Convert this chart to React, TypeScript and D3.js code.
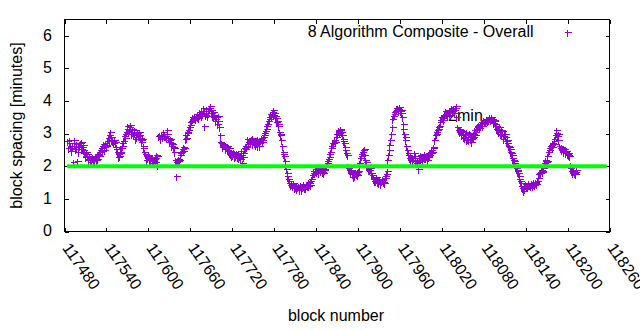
import React from "react";
import * as d3 from "d3";

// ---- data ----
const seriesTitle = "8 Algorithm Composite - Overall";
const xLabel = "block number";
const yLabel = "block spacing [minutes]";
// even-numbered blocks starting at 117484, step 2
const firstEvenBlock = 117484;
const spacingEven: number[] = [
  2.78, 2.72, 2.62, 2.55, 2.12, 2.82, 2.60, 2.16, 2.58, 2.70,
  2.74, 2.66, 2.40, 2.32, 2.38, 2.22, 2.25, 2.18, 2.24, 2.20,
  2.28, 2.22, 2.38, 2.44, 2.55, 2.62, 2.58, 2.70, 2.66, 2.88,
  2.96, 2.90, 2.78, 2.70, 2.74, 2.52, 2.38, 2.32, 2.45, 2.62,
  2.78, 2.86, 3.05, 3.22, 3.12, 3.28, 3.05, 2.95, 3.10, 2.90,
  3.02, 2.95, 2.88, 2.80, 2.62, 2.45, 2.32, 2.25, 2.30, 2.20,
  2.28, 2.15, 2.22, 2.12, 2.30, 2.92, 2.88, 2.96, 2.90, 3.00,
  2.94, 3.12, 2.86, 2.80, 2.72, 2.68, 2.55, 2.20, 1.70, 2.15,
  2.18, 2.40, 2.52, 2.48, 2.95, 2.88, 3.02, 3.20, 3.35, 3.45,
  3.48, 3.50, 3.55, 3.52, 3.58, 3.60, 3.70, 3.80, 3.25, 3.62,
  3.55, 3.68, 3.85, 3.72, 3.50, 3.58, 3.40, 3.30, 3.55, 2.95,
  2.70, 2.58, 2.65, 2.55, 2.62, 2.48, 2.40, 2.45, 2.35, 2.42,
  2.30, 2.38, 2.25, 2.32, 2.48, 2.10, 2.40, 2.52, 2.60, 2.75,
  2.82, 2.70, 2.88, 2.78, 2.65, 2.72, 2.85, 2.62, 2.80, 2.75,
  2.90, 3.02, 3.15, 3.30, 3.45, 3.60, 3.55, 3.72, 3.62, 3.48,
  3.40, 3.22, 2.95, 2.80, 2.45, 2.30, 2.05, 1.80, 1.62, 1.50,
  1.45, 1.38, 1.42, 1.35, 1.30, 1.38, 1.32, 1.28, 1.35, 1.40,
  1.33, 1.45, 1.38, 1.50, 1.55, 1.72, 1.85, 1.92, 1.82, 1.88,
  1.95, 1.85, 1.90, 1.78, 1.92, 2.05, 2.15, 2.28, 2.45, 2.62,
  2.72, 2.80, 2.90, 3.00, 3.10, 3.15, 3.05, 2.85, 2.70, 2.50,
  2.35, 1.95, 1.85, 1.90, 1.75, 1.70, 1.80, 1.72, 1.85, 2.10,
  2.30, 2.45, 2.52, 2.20, 2.05, 1.95, 1.90, 2.00, 1.72, 1.62,
  1.55, 1.68, 1.50, 1.60, 1.45, 1.58, 1.52, 1.65, 1.75, 2.20,
  2.50, 2.80, 3.20, 3.55, 3.65, 3.72, 3.80, 3.75, 3.68, 3.62,
  3.30, 3.00, 2.80, 2.50, 2.35, 2.20, 2.28, 2.15, 2.40, 2.18,
  2.12, 1.93, 2.25, 2.30, 2.20, 2.38, 2.25, 2.32, 2.28, 2.40,
  2.50, 2.45, 2.55, 2.95, 3.05, 3.15, 3.25, 3.42, 3.48, 3.52,
  3.60, 3.65, 3.55, 3.72, 3.68, 3.75, 3.80, 3.62, 3.85, 3.20,
  3.05, 3.12, 2.95, 3.00, 2.88, 3.05, 2.85, 2.80, 2.92, 2.75,
  2.90, 3.10, 2.95, 3.20, 3.28, 3.22, 3.35, 3.30, 3.40, 3.38,
  3.45, 3.42, 3.48, 3.50, 3.45, 3.38, 3.30, 3.15, 3.05, 3.20,
  2.95, 3.08, 2.85, 3.00, 2.78, 2.70, 2.60, 2.45, 2.35, 2.20,
  2.10, 1.95, 1.85, 1.70, 1.55, 1.40, 1.25, 1.35, 1.42, 1.38,
  1.48, 1.40, 1.45, 1.52, 1.42, 1.50, 1.55, 1.75, 1.82, 1.88,
  1.85, 2.10, 2.18, 2.15, 2.45, 2.55, 2.65, 2.72, 2.78, 2.95,
  3.10, 2.98, 2.62, 2.50, 2.55, 2.45, 2.40, 2.48, 2.35, 2.30,
  1.95, 1.80, 1.85, 1.75, 1.88,
];
// odd-numbered blocks starting at 117485, step 2
const firstOddBlock = 117485;
const spacingOdd: number[] = [
  2.55, 2.80, 2.48, 2.62, 2.70, 2.52, 2.68, 2.45, 2.62, 2.52,
  2.60, 2.50, 2.28, 2.45, 2.20, 2.30, 2.14, 2.28, 2.15, 2.32,
  2.18, 2.35, 2.30, 2.50, 2.48, 2.68, 2.50, 2.62, 2.78, 2.82,
  3.05, 2.82, 2.72, 2.82, 2.60, 2.45, 2.28, 2.40, 2.55, 2.70,
  2.92, 2.98, 3.15, 3.08, 3.20, 3.00, 3.15, 3.02, 2.85, 2.98,
  2.92, 3.05, 2.75, 2.85, 2.55, 2.38, 2.20, 2.35, 2.18, 2.26,
  2.20, 2.10, 2.26, 2.35, 2.05, 2.96, 2.85, 2.92, 3.05, 2.92,
  2.88, 2.98, 2.75, 2.85, 2.62, 2.58, 2.45, 2.12, 2.20, 2.22,
  2.35, 2.45, 2.60, 2.55, 2.85, 3.05, 3.12, 3.28, 3.40, 3.50,
  3.55, 3.45, 3.60, 3.48, 3.65, 3.55, 3.62, 3.68, 3.58, 3.75,
  3.62, 3.78, 3.62, 3.55, 3.65, 3.45, 3.52, 3.38, 3.20, 2.75,
  2.62, 2.68, 2.52, 2.60, 2.50, 2.55, 2.38, 2.30, 2.45, 2.28,
  2.42, 2.28, 2.40, 2.22, 2.35, 2.28, 2.55, 2.62, 2.85, 2.68,
  2.75, 2.85, 2.68, 2.72, 2.80, 2.62, 2.75, 2.70, 2.88, 2.82,
  2.96, 3.08, 3.22, 3.38, 3.52, 3.50, 3.65, 3.58, 3.55, 3.35,
  3.30, 3.05, 3.00, 2.62, 2.38, 2.15, 1.92, 1.70, 1.55, 1.42,
  1.40, 1.48, 1.32, 1.40, 1.36, 1.28, 1.42, 1.34, 1.45, 1.32,
  1.42, 1.38, 1.52, 1.44, 1.62, 1.80, 1.78, 1.86, 1.95, 1.80,
  1.88, 1.92, 1.82, 1.88, 1.98, 2.10, 2.22, 2.38, 2.55, 2.70,
  2.80, 2.75, 2.98, 3.08, 3.02, 3.12, 2.95, 2.78, 2.60, 2.42,
  2.00, 1.90, 1.80, 1.82, 1.68, 1.78, 1.75, 1.82, 1.98, 2.25,
  2.38, 2.50, 2.35, 2.12, 1.98, 1.88, 1.95, 1.80, 1.65, 1.55,
  1.62, 1.52, 1.58, 1.48, 1.55, 1.62, 1.48, 1.70, 1.85, 2.35,
  2.65, 3.00, 3.45, 3.60, 3.70, 3.78, 3.70, 3.82, 3.72, 3.50,
  3.15, 2.90, 2.62, 2.42, 2.25, 2.32, 2.18, 2.25, 2.30, 2.10,
  2.20, 2.15, 2.35, 2.22, 2.30, 2.25, 2.35, 2.20, 2.35, 2.45,
  2.42, 2.58, 2.80, 3.00, 3.10, 3.20, 3.35, 3.50, 3.42, 3.58,
  3.68, 3.58, 3.65, 3.62, 3.78, 3.70, 3.72, 3.80, 3.50, 3.10,
  3.15, 2.98, 3.08, 2.90, 2.95, 2.82, 2.95, 3.02, 2.85, 2.88,
  3.00, 3.05, 3.15, 3.25, 3.18, 3.30, 3.25, 3.42, 3.35, 3.45,
  3.40, 3.50, 3.42, 3.45, 3.32, 3.42, 3.22, 3.10, 3.15, 3.00,
  3.10, 2.92, 2.98, 2.90, 2.82, 2.62, 2.52, 2.40, 2.25, 2.15,
  2.02, 1.90, 1.78, 1.62, 1.48, 1.32, 1.30, 1.45, 1.35, 1.44,
  1.42, 1.50, 1.38, 1.46, 1.52, 1.45, 1.65, 1.80, 1.78, 1.82,
  1.95, 2.15, 2.12, 2.30, 2.50, 2.62, 2.58, 2.68, 2.85, 3.02,
  2.92, 2.80, 2.55, 2.58, 2.48, 2.52, 2.45, 2.38, 2.42, 2.05,
  1.85, 1.90, 1.78, 1.82,
];
const blockStep = 2;
const xTicks = [117480, 117540, 117600, 117660, 117720, 117780, 117840, 117900, 117960, 118020, 118080, 118140, 118200, 118260];
const yTicks = [0, 1, 2, 3, 4, 5, 6];
const xDomain = [117480, 118260];
const yDomain = [0, 6.5];
const minLevel = 2;
const minLineBlocks = [117483.5, 118256];
const minLabel = "2min";
const minLabelPos = { block: 118029, value: 3.4 };

// ---- layout ----
const W = 640, H = 330;
const L = 64.5, R = 609.5, T = 19.5, B = 231.5;
const FONT = "'Liberation Sans', Arial, Helvetica, sans-serif";
const PURPLE = "#9400d3";
const TICK = 4;

export default function App() {
  const x = d3.scaleLinear().domain(xDomain).range([L, R]);
  const y = d3.scaleLinear().domain(yDomain).range([B, T]);
  const points = [
    ...spacingEven.map((v, i) => ({ b: firstEvenBlock + i * blockStep, v })),
    ...spacingOdd.map((v, i) => ({ b: firstOddBlock + i * blockStep, v })),
  ];
  const plus = (cx: number, cy: number, k: string | number) => {
    const px = Math.round(cx) + 0.5, py = Math.round(cy) + 0.5;
    return (
      <path key={k} d={`M${px - 3},${py}H${px + 4}M${px},${py - 3}V${py + 4}`} />
    );
  };
  return (
    <div style={{ position: "absolute", left: 0, top: 0 }}>
      <svg width={W} height={H} style={{ display: "block", background: "#fff" }} fontFamily={FONT}>
        <rect x={0} y={0} width={W} height={H} fill="#fff" />
        {/* ticks */}
        <g stroke="#000" strokeWidth={1} shapeRendering="crispEdges">
          {yTicks.map((t) => (
            <g key={"y" + t}>
              <line x1={L} x2={L + TICK} y1={Math.round(y(t)) + 0.5} y2={Math.round(y(t)) + 0.5} />
              <line x1={R} x2={R - TICK} y1={Math.round(y(t)) + 0.5} y2={Math.round(y(t)) + 0.5} />
            </g>
          ))}
          {xTicks.map((t) => (
            <g key={"x" + t}>
              <line x1={Math.round(x(t)) + 0.5} x2={Math.round(x(t)) + 0.5} y1={B} y2={B - TICK} />
              <line x1={Math.round(x(t)) + 0.5} x2={Math.round(x(t)) + 0.5} y1={T} y2={T + TICK} />
            </g>
          ))}
        </g>
        {/* tick labels */}
        <g fontSize={16} fill="#000">
          {yTicks.map((t) => (
            <text key={"yl" + t} x={52} y={y(t)} dy="0.3em" textAnchor="end">{t}</text>
          ))}
          {xTicks.map((t) => (
            <text key={"xl" + t} transform={`translate(${x(t) - 2.7},248) rotate(55)`} textAnchor="start">{t}</text>
          ))}
        </g>
        {/* axis titles */}
        <text x={336} y={321} fontSize={16} textAnchor="middle">{xLabel}</text>
        <text transform={`translate(22,${(T + B) / 2}) rotate(-90)`} fontSize={16} textAnchor="middle">{yLabel}</text>
        {/* label */}
        <text x={x(minLabelPos.block)} y={y(minLabelPos.value)} fontSize={16} fill="#000">{minLabel}</text>
        {/* points */}
        <g stroke={PURPLE} strokeWidth={1} fill="none" shapeRendering="crispEdges">
          {points.map((p, i) => plus(x(p.b), y(p.v), i))}
        </g>
        {/* min line */}
        <line x1={x(minLineBlocks[0])} x2={x(minLineBlocks[1])} y1={y(minLevel)} y2={y(minLevel)} stroke="#00ff00" strokeWidth={4} />
        {/* legend */}
        <text x={533.5} y={37} fontSize={16} textAnchor="end">{seriesTitle}</text>
        <g stroke={PURPLE} strokeWidth={1} fill="none" shapeRendering="crispEdges">
          {plus(567, 32, "leg")}
        </g>
        {/* border */}
        <rect x={L} y={T} width={R - L} height={B - T} fill="none" stroke="#000" strokeWidth={1} shapeRendering="crispEdges" />
      </svg>
    </div>
  );
}
